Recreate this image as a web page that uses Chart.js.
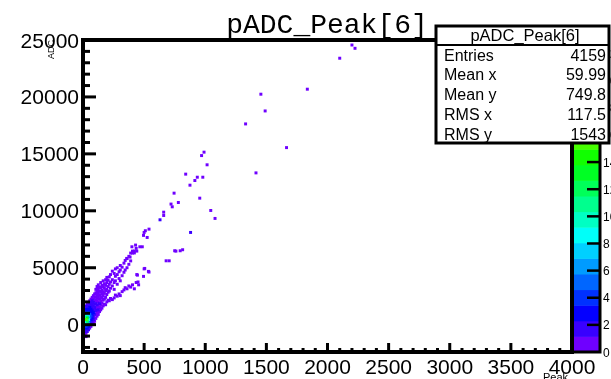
<!DOCTYPE html>
<html>
<head>
<meta charset="utf-8">
<script src="https://cdn.jsdelivr.net/npm/chart.js@4.4.0/dist/chart.umd.min.js"></script>
<style>
  html, body { margin: 0; padding: 0; background: #fff; }
</style>
</head>
<body>
<canvas id="c" width="611" height="379"></canvas>
<script>
// bin centres (Peak, ADC) and bin contents
const peak = [
  5, 5, 5, 5, 5, 5, 5, 5, 5,
  15, 15, 15, 15, 15, 15, 15, 15, 15,
  25, 25, 25, 25, 25, 25, 25, 25, 25, 25,
  35, 35, 35, 35, 35, 35, 35, 35, 35,
  45, 45, 45, 45, 45, 45, 45, 45, 45,
  55, 55, 55, 55, 55, 55, 55, 55, 55,
  65, 65, 65, 65, 65, 65, 65, 65, 65,
  75, 75, 75, 75, 75, 75, 75, 75, 75,
  85, 85, 85, 85, 85, 85, 85, 85, 85,
  95, 95, 95, 95, 95, 95, 95, 95, 95,
  105, 105, 105, 105, 105, 105, 105, 105, 105,
  115, 115, 115, 115, 115, 115, 115, 115, 115,
  125, 125, 125, 125, 125, 125, 125, 125,
  135, 135, 135, 135, 135, 135, 135,
  145, 145, 145, 145, 145, 145, 145,
  155, 155, 155, 155, 155, 155,
  165, 165, 165, 165, 165, 165,
  175, 175, 175, 175, 175,
  185, 185, 185, 185, 185,
  195, 195, 195, 195, 195,
  205, 205, 205, 205,
  215, 215, 215, 215,
  225, 225, 225, 225,
  240, 240, 240, 240,
  255, 255, 255, 255,
  265, 265, 265, 265,
  280, 280, 280, 280,
  295, 295, 295,
  305, 305, 305, 305,
  320, 320, 320,
  335, 335, 335,
  345, 345, 345,
  360, 360, 360,
  375, 375, 375,
  390, 390, 390,
  405, 405,
  420, 420,
  435, 435,
  450, 455, 445, 495, 440, 505, 540, 500, 535, 680, 705, 750,
  795, 760, 815, 385, 358, 465, 485, 400, 430, 420, 440, 405,
  540, 510, 500, 495, 525, 660, 660, 630, 720, 730, 780, 745,
  875, 915, 935, 980, 840, 970, 990, 1015, 955, 1045, 1080, 880,
  1415, 1330, 1455, 1490, 1665, 1835, 2100, 2200, 2225
];
const adc = [
  -1050, -750, -450, -150, 150, 450, 750, 1050, 1350,
  -900, -600, -300, 0, 300, 600, 900, 1200, 1500,
  -1050, -750, -450, -150, 150, 450, 750, 1050, 1350, 1650,
  -600, -300, 0, 300, 600, 900, 1200, 1500, 1800,
  -450, -150, 150, 450, 750, 1050, 1350, 1650, 1950,
  -300, 0, 300, 600, 900, 1200, 1500, 1800, 2100,
  -150, 150, 450, 750, 1050, 1350, 1650, 1950, 2250,
  0, 300, 600, 900, 1200, 1500, 1800, 2100, 2400,
  150, 450, 750, 1050, 1350, 1650, 1950, 2250, 2550,
  300, 600, 900, 1200, 1500, 1800, 2100, 2400, 2700,
  550, 950, 1250, 1550, 1850, 2150, 2450, 2800, 3100,
  750, 1100, 1400, 1750, 2050, 2300, 2650, 2950, 3350,
  900, 1300, 1600, 2000, 2400, 2750, 3100, 3500,
  1150, 1500, 1850, 2250, 2600, 2950, 3300,
  1300, 1700, 2100, 2450, 2850, 3250, 3700,
  1450, 1900, 2350, 2700, 3050, 3450,
  1650, 2150, 2550, 2900, 3350, 3850,
  1800, 2250, 2750, 3200, 3600,
  1750, 2400, 3000, 3450, 3950,
  2000, 2650, 3100, 3700, 4150,
  2150, 2850, 3350, 3900,
  2100, 2950, 3550, 4200,
  2300, 3200, 3750, 4400,
  2200, 3400, 3950, 4700,
  2350, 3100, 3700, 4500,
  2600, 3850, 4250, 4900,
  2500, 3550, 4400, 5000,
  2700, 4050, 4650,
  2550, 3850, 4800, 5200,
  2900, 4300, 5050,
  3050, 4600, 5400,
  3250, 4800, 5640,
  3150, 5000, 5800,
  3400, 5300, 6000,
  3300, 5600, 6290,
  3500, 6460,
  3150, 6300,
  3700, 6700,
  3750, 3500, 4350, 4240, 4400, 4940, 4620, 4900, 4680, 5610, 5610, 6490,
  6490, 6460, 6580, 5940, 5820, 6840, 6840, 6840, 6990, 6460, 6460, 6290,
  8390, 8250, 8100, 7840, 7660, 9880, 9590, 9210, 10590, 10350, 10730, 11550,
  12250, 12660, 12950, 12950, 13220, 14850, 15150, 14040, 11110, 10030, 9330, 8100,
  13330, 17630, 20240, 18770, 15550, 20680, 23400, 24560, 24270
];
const counts = [
  1, 1, 2, 3, 4, 6, 4, 2, 1,
  1, 2, 3, 4, 7, 8, 4, 2, 1,
  1, 1, 2, 4, 9, 15, 10, 4, 3, 2,
  2, 3, 5, 12, 13, 6, 3, 2, 1,
  2, 3, 6, 9, 7, 4, 3, 2, 1,
  1, 2, 4, 5, 5, 3, 3, 2, 1,
  1, 2, 3, 4, 3, 3, 2, 2, 1,
  1, 2, 3, 3, 3, 2, 2, 2, 1,
  1, 2, 2, 3, 2, 2, 2, 1, 1,
  1, 1, 2, 2, 2, 2, 1, 1, 1,
  1, 1, 2, 1, 2, 1, 1, 1, 1,
  1, 1, 1, 2, 1, 1, 1, 1, 1,
  1, 2, 1, 1, 1, 1, 1, 1,
  1, 1, 2, 1, 1, 1, 1,
  1, 1, 1, 1, 1, 1, 1,
  1, 1, 1, 1, 1, 1,
  1, 1, 1, 1, 1, 1,
  1, 1, 1, 1, 1,
  1, 1, 1, 1, 1,
  1, 1, 1, 1, 1,
  1, 1, 1, 1,
  1, 1, 1, 1,
  1, 1, 1, 1,
  1, 1, 1, 1,
  1, 1, 1, 1,
  1, 1, 1, 1,
  1, 1, 1, 1,
  1, 1, 1,
  1, 1, 1, 1,
  1, 1, 1,
  1, 1, 1,
  1, 1, 1,
  1, 1, 1,
  1, 1, 1,
  1, 1, 1,
  1, 1,
  1, 1,
  1, 1,
  1, 1, 1, 1, 1, 1, 1, 1, 1, 1, 1, 1,
  1, 1, 1, 1, 1, 1, 1, 1, 1, 1, 1, 1,
  1, 1, 1, 1, 1, 1, 1, 2, 1, 1, 1, 1,
  1, 1, 1, 1, 1, 1, 1, 1, 1, 1, 1, 2,
  1, 1, 1, 1, 1, 1, 1, 1, 1
];

const xLabels = [0, 500, 1000, 1500, 2000, 2500, 3000, 3500, 4000];
const yLabels = [0, 5000, 10000, 15000, 20000, 25000];
const zLabels = [0, 2, 4, 6, 8, 10, 12, 14, 16, 18, 20, 22];
const statNames = ['Entries', 'Mean x', 'Mean y', 'RMS x', 'RMS y'];
const statValues = ['4159', '59.99', '749.8', '117.5', '1543'];

const zMax = 23;
const nLevels = 20;

function levelColor(i) {
    return `hsl(${266 - 12.5 * i}, 100%, 50%)`;
}

function binColor(n) {
    const i = Math.min(nLevels - 1, Math.floor(n / (zMax / nLevels)));
    return levelColor(i);
}

// draw low bins first so the busy ones stay on top
const order = counts.map((n, i) => i).sort((a, b) => counts[a] - counts[b]);
const points = order.map(i => ({ x: peak[i], y: adc[i], n: counts[i] }));

const labelFont = '21px "Liberation Sans", Arial, sans-serif';

// ROOT-like frame, ticks, palette and stats box
const rootFrame = {
    id: 'rootFrame',
    afterDraw(chart) {
        const { ctx, chartArea: a } = chart;
        const { x, y, z } = chart.scales;
        ctx.save();

        // palette
        const barL = a.right, barR = 600;
        for (let i = 0; i < nLevels; i++) {
            const t = z.getPixelForValue((i + 1) * zMax / nLevels);
            const b = z.getPixelForValue(i * zMax / nLevels);
            ctx.fillStyle = levelColor(i);
            ctx.fillRect(barL, t, barR - barL, b - t + 0.5);
        }
        ctx.strokeStyle = '#000';
        ctx.lineWidth = 3;
        ctx.strokeRect(barL, a.top, barR - barL, a.bottom - a.top);
        ctx.lineWidth = 2.5;
        ctx.fillStyle = '#000';
        ctx.font = '12px "Liberation Sans", Arial, sans-serif';
        ctx.textAlign = 'left';
        zLabels.forEach(v => {
            const py = z.getPixelForValue(v);
            if (v > 0) {
                ctx.beginPath();
                ctx.moveTo(barR - 13, py);
                ctx.lineTo(barR, py);
                ctx.stroke();
            }
            ctx.fillText(String(v), barR + 3, py + 4.5);
        });

        // frame
        ctx.lineWidth = 4;
        ctx.strokeRect(a.left, a.top, a.right - a.left, a.bottom - a.top);

        // y ticks
        ctx.lineWidth = 3;
        for (let v = -2000; v <= 25000; v += 1000) {
            const py = y.getPixelForValue(v);
            const len = v % 5000 === 0 ? 13 : 7;
            ctx.beginPath();
            ctx.moveTo(a.left, py);
            ctx.lineTo(a.left + len, py);
            ctx.stroke();
        }
        // x ticks
        for (let v = 100; v < 4000; v += 100) {
            const px = x.getPixelForValue(v);
            const len = v % 500 === 0 ? 9 : 4;
            ctx.beginPath();
            ctx.moveTo(px, a.bottom);
            ctx.lineTo(px, a.bottom - len);
            ctx.stroke();
        }

        // axis titles
        ctx.font = '9px "Liberation Sans", Arial, sans-serif';
        ctx.save();
        ctx.translate(54, a.top);
        ctx.rotate(-Math.PI / 2);
        ctx.textAlign = 'right';
        ctx.fillText('ADC', 0, 0);
        ctx.restore();
        ctx.font = '11px "Liberation Sans", Arial, sans-serif';
        ctx.textAlign = 'right';
        ctx.fillText('Peak', 568, 381);

        // tick labels
        ctx.font = labelFont;
        ctx.textAlign = 'right';
        yLabels.forEach(v => {
            ctx.fillText(String(v), 79, y.getPixelForValue(v) + 7.5);
        });
        ctx.textAlign = 'center';
        xLabels.forEach(v => {
            ctx.fillText(String(v), x.getPixelForValue(v), 374);
        });

        // title
        ctx.font = '28px "Liberation Mono", "Courier New", monospace';
        ctx.fillText('pADC_Peak[6]', 327, 33);

        // stats box
        const sL = 436, sT = 26, sR = 609, sB = 143;
        ctx.fillStyle = '#fff';
        ctx.fillRect(sL, sT, sR - sL, sB - sT);
        ctx.lineWidth = 3;
        ctx.strokeRect(sL, sT, sR - sL, sB - sT);
        ctx.lineWidth = 2;
        ctx.beginPath();
        ctx.moveTo(sL, 45);
        ctx.lineTo(sR, 45);
        ctx.stroke();
        ctx.fillStyle = '#000';
        ctx.font = '16.5px "Liberation Sans", Arial, sans-serif';
        ctx.textAlign = 'center';
        ctx.fillText('pADC_Peak[6]', 525, 41);
        ctx.font = '16px "Liberation Sans", Arial, sans-serif';
        statNames.forEach((name, i) => {
            const base = 60.5 + 19.8 * i;
            ctx.textAlign = 'left';
            ctx.fillText(name, sL + 8, base);
            ctx.textAlign = 'right';
            ctx.fillText(statValues[i], sR - 3, base);
        });

        ctx.restore();
    }
};

const ctx = document.getElementById('c').getContext('2d');
new Chart(ctx, {
    type: 'scatter',
    data: {
        datasets: [{
            data: points,
            pointStyle: 'rect',
            pointRadius: 2.1,
            pointBorderWidth: 0,
            borderColor: 'rgba(0,0,0,0)',
            backgroundColor: c => binColor(c.raw ? c.raw.n : 1)
        }]
    },
    options: {
        responsive: false,
        animation: false,
        layout: {
            padding: { left: 83, right: 39, top: 40, bottom: 27 }
        },
        plugins: {
            legend: { display: false },
            tooltip: { enabled: false }
        },
        scales: {
            x: { type: 'linear', min: 0, max: 4000, display: false },
            y: { type: 'linear', min: -2400, max: 25000, display: false },
            z: { type: 'linear', axis: 'y', min: 0, max: zMax, display: false }
        }
    },
    plugins: [rootFrame]
});
</script>
</body>
</html>
